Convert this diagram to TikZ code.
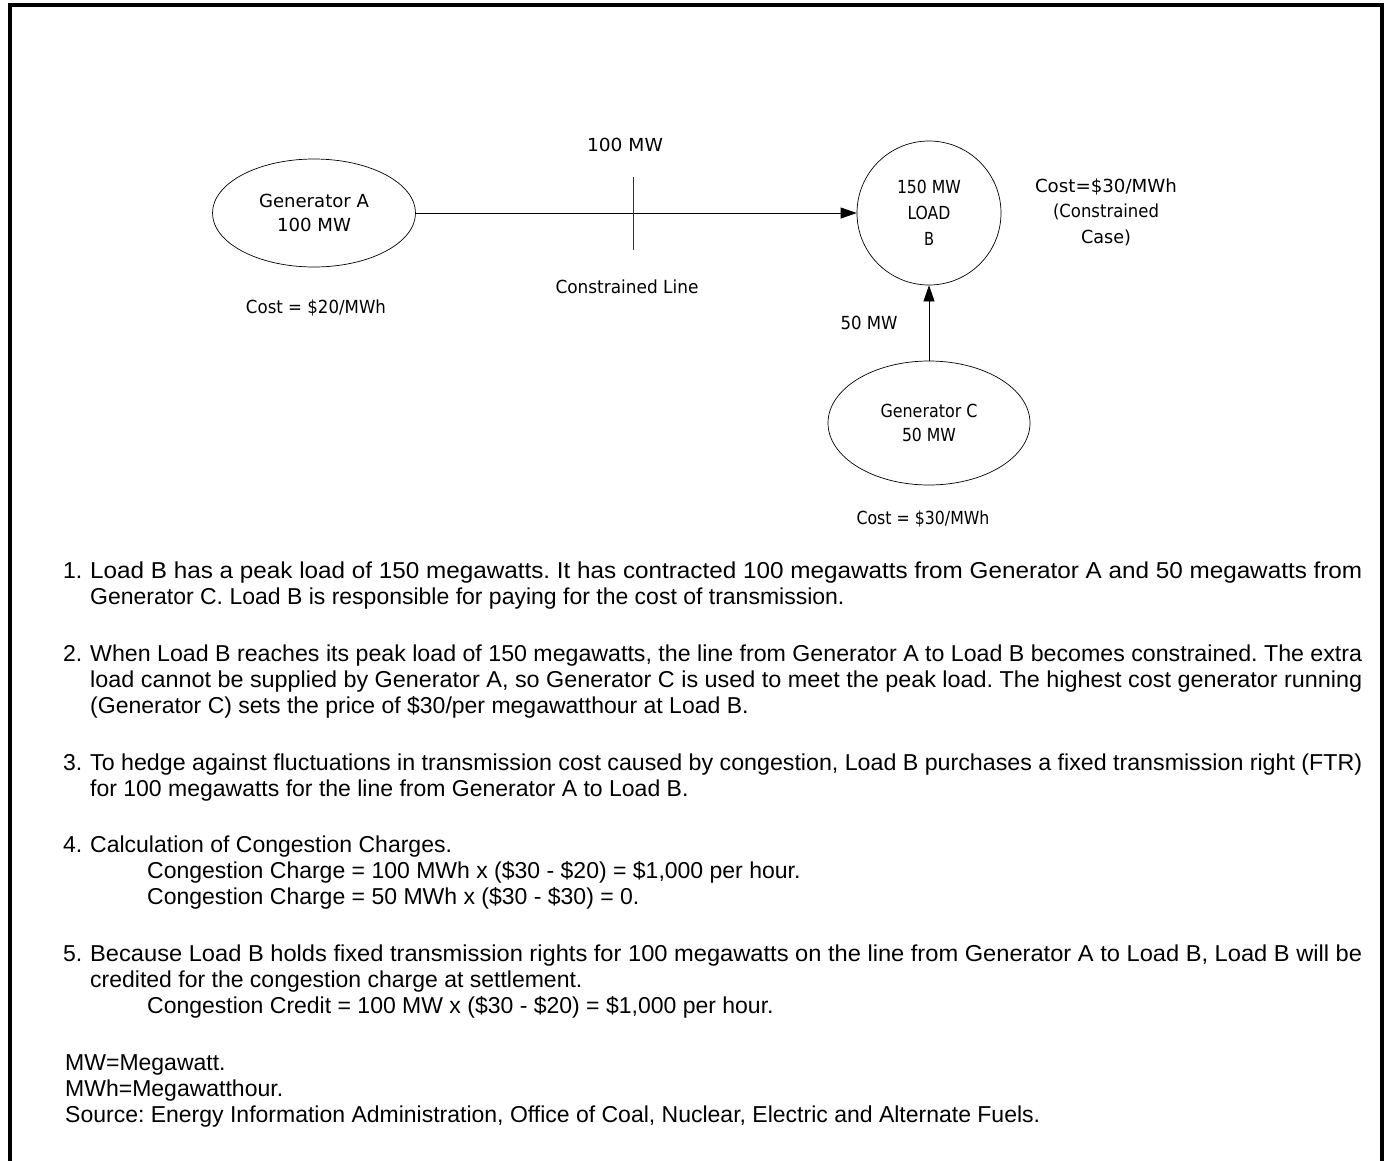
\documentclass[tikz,border=0pt]{standalone}
\usepackage{graphicx}
\usepackage{fontspec}
\usetikzlibrary{shapes.geometric,arrows.meta}
\newfontfamily\diagfont{DejaVu Sans}
\newfontfamily\bodyfont{Liberation Sans}
\newcommand\fitw[2]{\resizebox{#1}{\height}{#2}}
\newlength\jw
\setlength\jw{1272pt}
\frenchspacing
\tikzset{
  dlabel/.style={font=\diagfont\fontsize{18}{25.5}\selectfont, inner sep=0pt, align=center},
  genshape/.style={draw, ellipse, line width=0.7pt, inner sep=0pt, font=\diagfont\fontsize{18}{24.5}\selectfont, align=center},
  loadshape/.style={draw, circle, line width=0.7pt, inner sep=0pt, font=\diagfont\fontsize{18}{26}\selectfont, align=center},
  flow/.style={line width=0.7pt, -{Triangle[length=16pt,width=11pt]}},
  tick/.style={line width=0.7pt, black!80},
  bline/.style={anchor=base west, inner sep=0pt, font=\bodyfont\fontsize{23}{26}\selectfont},
  frame/.style={line width=4pt}
}
\begin{document}
\begin{tikzpicture}[x=1pt,y=-1pt]
\useasboundingbox (0,0) rectangle (1384,1160);
\draw[frame] (10,1162) -- (10,5) -- (1382,5) -- (1382,1162);

% diagram
\node[genshape, minimum width=203pt, minimum height=108pt] (genA) at (314,213) {\fitw{110pt}{Generator A}\\\fitw{74pt}{100 MW}};
\node[loadshape, minimum size=144pt] (loadB) at (929,213) {\fitw{64pt}{150 MW}\\\fitw{43pt}{LOAD}\\\fitw{10pt}{B}};
\node[genshape, minimum width=202pt, minimum height=124pt] (genC) at (929,423) {\fitw{97pt}{Generator C}\\\fitw{54pt}{50 MW}};

\draw[flow] (genA.east) -- (loadB.west);
\draw[flow] (genC.north) -- (loadB.south);
\coordinate (tickT) at (633,177);
\coordinate (tickB) at (633,250);
\draw[tick] (tickT) -- (tickB);

\node[dlabel] (lblAB) at (625,145) {\fitw{76pt}{100 MW}};
\node[dlabel] (lblCL) at (627,287) {\fitw{143pt}{Constrained Line}};
\node[dlabel] (costA) at (316,308) {\fitw{140pt}{Cost = \$20/MWh}};
\node[dlabel] (costB) at (1106,212) {\fitw{142pt}{Cost=\$30/MWh}\\\fitw{106pt}{(Constrained}\\\fitw{50pt}{Case)}};
\node[dlabel] (lblCB) at (869,323) {\fitw{57pt}{50 MW}};
\node[dlabel] (costC) at (923,519) {\fitw{133pt}{Cost = \$30/MWh}};

% body text
\node[bline] (n1) at (63,578) {1.};
\node[bline] (t1a) at (90,578) {\fitw{\jw}{Load B has a peak load of 150 megawatts. It has contracted 100 megawatts from Generator A and 50 megawatts from}};
\node[bline] (t1b) at (90,604) {Generator C. Load B is responsible for paying for the cost of transmission.};

\node[bline] (n2) at (63,661) {2.};
\node[bline] (t2a) at (90,661) {\fitw{\jw}{When Load B reaches its peak load of 150 megawatts, the line from Generator A to Load B becomes constrained. The extra}};
\node[bline] (t2b) at (90,687) {\fitw{\jw}{load cannot be supplied by Generator A, so Generator C is used to meet the peak load. The highest cost generator running}};
\node[bline] (t2c) at (90,713) {(Generator C) sets the price of \$30/per megawatthour at Load B.};

\node[bline] (n3) at (63,770) {3.};
\node[bline] (t3a) at (90,770) {\fitw{\jw}{To hedge against fluctuations in transmission cost caused by congestion, Load B purchases a fixed transmission right (FTR)}};
\node[bline] (t3b) at (90,796) {for 100 megawatts for the line from Generator A to Load B.};

\node[bline] (n4) at (63,852) {4.};
\node[bline] (t4a) at (90,852) {Calculation of Congestion Charges.};
\node[bline] (t4b) at (147,878) {Congestion Charge = 100 MWh x (\$30 - \$20) = \$1,000 per hour.};
\node[bline] (t4c) at (147,904) {Congestion Charge = 50 MWh x (\$30 - \$30) = 0.};

\node[bline] (n5) at (63,961) {5.};
\node[bline] (t5a) at (90,961) {\fitw{\jw}{Because Load B holds fixed transmission rights for 100 megawatts on the line from Generator A to Load B, Load B will be}};
\node[bline] (t5b) at (90,987) {credited for the congestion charge at settlement.};
\node[bline] (t5c) at (147,1013) {Congestion Credit = 100 MW x (\$30 - \$20) = \$1,000 per hour.};

\node[bline] (f1) at (65,1070) {MW=Megawatt.};
\node[bline] (f2) at (65,1096) {MWh=Megawatthour.};
\node[bline] (f3) at (65,1122) {Source: Energy Information Administration, Office of Coal, Nuclear, Electric and Alternate Fuels.};
\end{tikzpicture}
\end{document}
